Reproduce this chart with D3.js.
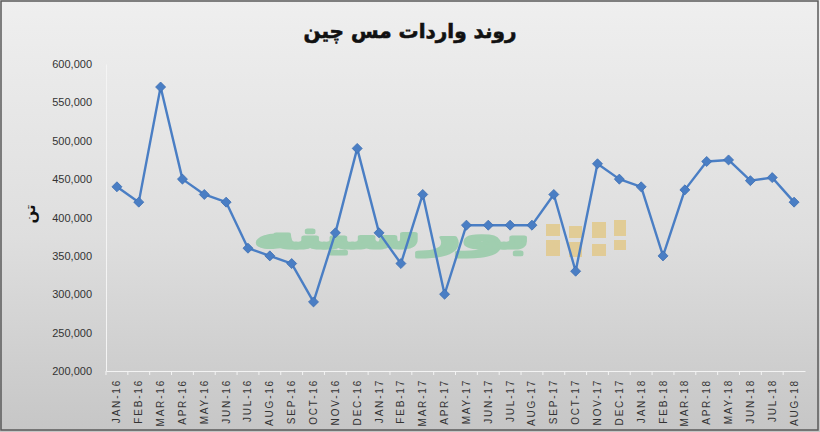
<!DOCTYPE html>
<html><head><meta charset="utf-8">
<script src="https://cdn.jsdelivr.net/npm/d3@7"></script>
<style>html,body{margin:0;padding:0;background:#fff}</style>
</head><body>
<svg id="c" width="820" height="432"></svg>
<script>
const categories = ["JAN-16","FEB-16","MAR-16","APR-16","MAY-16","JUN-16","JUL-16","AUG-16","SEP-16","OCT-16","NOV-16","DEC-16",
"JAN-17","FEB-17","MAR-17","APR-17","MAY-17","JUN-17","JUL-17","AUG-17","SEP-17","OCT-17","NOV-17","DEC-17",
"JAN-18","FEB-18","MAR-18","APR-18","MAY-18","JUN-18","JUL-18","AUG-18"];
const imports = [440000,420000,570000,450000,430000,420000,360000,350000,340000,290000,380000,490000,
380000,340000,430000,300000,390000,390000,390000,390000,430000,330000,470000,450000,
440000,350000,436000,473000,475000,448000,452000,420000];
const yTicks = [200000,250000,300000,350000,400000,450000,500000,550000,600000];
const titleText = "روند واردات مس چین";
const yTitle = "تن";
const watermark = "بورسینه";

const W=820,H=432;
const svg=d3.select("#c");
const defs=svg.append("defs");
const g=defs.append("linearGradient").attr("id","bg").attr("x1",0).attr("y1",0).attr("x2",0).attr("y2",1);
g.append("stop").attr("offset","0%").attr("stop-color","#efefef");
g.append("stop").attr("offset","55%").attr("stop-color","#dedede");
g.append("stop").attr("offset","100%").attr("stop-color","#c6c6c6");
svg.append("rect").attr("x",0).attr("y",0).attr("width",W).attr("height",H).attr("fill","url(#bg)");
svg.append("rect").attr("x",1).attr("y",1).attr("width",W-3).attr("height",H-3).attr("fill","none").attr("stroke","#5a5a5a").attr("stroke-width",1.5);

const m={l:106,r:805,t:64,b:371};
const x=d3.scaleBand().domain(categories).range([m.l,m.r]);
const y=d3.scaleLinear().domain([200000,600000]).range([m.b,m.t]);

// title
svg.append("text").attr("x",410).attr("y",38).attr("text-anchor","middle")
 .attr("font-family","DejaVu Sans").attr("font-weight","bold").attr("font-size",20).attr("fill","#111")
 .attr("stroke","#111").attr("stroke-width",0.6)
 .attr("direction","rtl").text(titleText);

// watermark
svg.append("text").attr("x",392).attr("y",248).attr("text-anchor","middle")
 .attr("font-family","DejaVu Sans").attr("font-weight","bold").attr("font-size",38).attr("fill","#8cc9a0").attr("opacity",0.75)
 .attr("stroke","#8cc9a0").attr("stroke-width",3).attr("stroke-linejoin","round")
 .attr("textLength",276).attr("lengthAdjust","spacingAndGlyphs").attr("direction","rtl").text(watermark);
const wm=svg.append("g").attr("fill","#e2c98a").attr("opacity",0.85);
[[546,224,14,12],[546,240,14,16],[569,226,13,12],[569,242,13,15],[592,222,14,16],[592,244,14,12],[614,220,12,16],[614,240,12,10]]
 .forEach(r=>wm.append("rect").attr("x",r[0]).attr("y",r[1]).attr("width",r[2]).attr("height",r[3]));

// y axis
const ya=svg.append("g").attr("transform",`translate(${m.l},0)`)
 .call(d3.axisLeft(y).tickValues(yTicks).tickFormat(d3.format(",")).tickSize(0).tickPadding(14));
ya.select(".domain").attr("stroke","#f4f4f4").attr("stroke-width",1);
ya.selectAll("text").attr("font-family","Liberation Sans").attr("font-size",11).attr("fill","#333");

// x axis
const xa=svg.append("g").attr("transform",`translate(0,${m.b})`)
 .call(d3.axisBottom(x).tickSize(4).tickSizeOuter(0));
xa.select(".domain").attr("stroke","#f4f4f4").attr("stroke-width",1.2);
xa.selectAll(".tick line").attr("stroke","#f4f4f4").attr("transform",`translate(${-x.bandwidth()/2},0)`);
xa.selectAll("text").attr("font-family","Liberation Sans").attr("font-size",10).attr("fill","#333")
 .attr("letter-spacing","1.8px")
 .attr("transform","rotate(-90)").attr("text-anchor","end").attr("dx","-8").attr("dy","0.35em").attr("x",0).attr("y",0);

// y title
svg.append("text").attr("transform","translate(35,214) rotate(-90)").attr("text-anchor","middle")
 .attr("font-family","DejaVu Sans").attr("font-weight","bold").attr("font-size",15).attr("fill","#111").text(yTitle);

// line
const cx=(d,i)=>x(categories[i])+x.bandwidth()/2;
const line=d3.line().x((d,i)=>cx(d,i)).y(d=>y(d));
svg.append("path").datum(imports).attr("d",line).attr("fill","none").attr("stroke","#4a7ec4").attr("stroke-width",2.4).attr("stroke-linejoin","round");
svg.append("g").selectAll("path").data(imports).join("path")
 .attr("d",d3.symbol().type(d3.symbolDiamond2).size(64))
 .attr("transform",(d,i)=>`translate(${cx(d,i)},${y(d)})`)
 .attr("fill","#4a7ec4").attr("stroke","#3d6fb3").attr("stroke-width",0.8);
</script>
</body></html>
